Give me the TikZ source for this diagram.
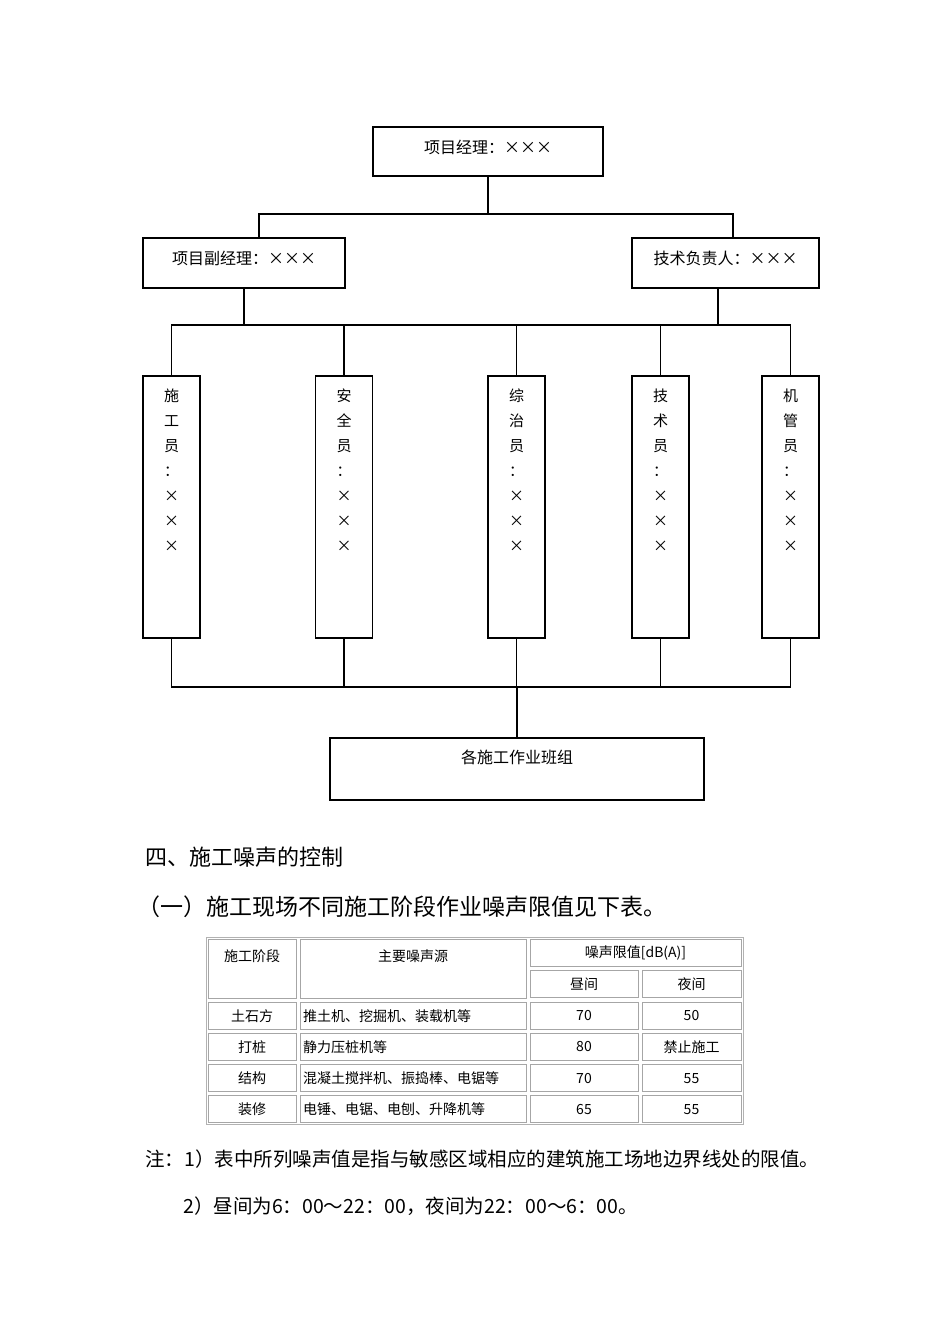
\documentclass[tikz,border=0pt]{standalone}
\usepackage{fontspec}
\setmainfont{Noto Sans CJK SC}
\usetikzlibrary{calc}
\newcommand{\xx}{\makebox[1em]{×}}
\newcommand{\vstack}[1]{\parbox[c][262pt][t]{20pt}{\centering\vspace*{13pt}#1}}

\begin{document}
\begin{tikzpicture}[
  x=1pt,y=-1pt,
  box/.style={draw,line width=1.3pt,inner sep=0pt,font=\fontsize{16}{18}\selectfont,text height=13pt},
  post/.style={draw,line width=1.3pt,inner sep=0pt,minimum width=57pt,font=\fontsize{15}{25}\selectfont},
  link/.style={line width=1.3pt},
  cell/.style={draw=gray!70,line width=1pt,inner sep=0pt,minimum height=27pt,font=\fontsize{14}{16}\selectfont},
  para/.style={anchor=west,inner sep=0pt}
]
\useasboundingbox (0,0) rectangle (950,1344);

% organisation chart
\node[box,minimum width=230pt,minimum height=49pt,text depth=10pt] (pm) at (488,151.5) {项目经理：\xx\xx\xx};
\node[box,minimum width=202pt,minimum height=50pt,text depth=11pt] (dpm) at (244,263) {项目副经理：\xx\xx\xx};
\node[box,minimum width=187pt,minimum height=50pt,text depth=11pt] (tech) at (725.5,263) {技术负责人：\xx\xx\xx};
\foreach \x/\a/\b/\c [count=\i] in {171.5/施/工/员, 344/安/全/员, 516.5/综/治/员, 660.5/技/术/员, 790.5/机/管/员}
  \node[post] (wk\i) at (\x,507) {\vstack{\a\\\b\\\c\\：\\×\\×\\×}};
\node[box,minimum width=374pt,minimum height=62pt,text depth=25pt] (crew) at (517,769) {各施工作业班组};

\coordinate (busTop) at (0,214);
\coordinate (busMid) at (0,325);
\coordinate (busLow) at (0,687);
\draw[link] (pm.south) -- (pm.south |- busTop);
\draw[link] ([xshift=15pt]dpm.north) -- ([xshift=15pt]dpm.north |- busTop) -- ([xshift=7.5pt]tech.north |- busTop) -- ([xshift=7.5pt]tech.north);
\draw[link] (dpm.south) -- (dpm.south |- busMid);
\draw[link] ([xshift=-7.5pt]tech.south) -- ([xshift=-7.5pt]tech.south |- busMid);
\draw[link] (wk1.north) -- (wk1.north |- busMid) -- (wk5.north |- busMid) -- (wk5.north);
\foreach \i in {2,3,4}
  \draw[link] (wk\i.north) -- (wk\i.north |- busMid);
\draw[link] (wk1.south) -- (wk1.south |- busLow) -- (wk5.south |- busLow) -- (wk5.south);
\foreach \i in {2,3,4}
  \draw[link] (wk\i.south) -- (wk\i.south |- busLow);
\draw[link] (crew.north) -- (crew.north |- busLow);

% text
\node[para,font=\fontsize{22}{26}\selectfont] (sec) at (145,857) {四、施工噪声的控制};
\node[para,font=\fontsize{23}{27}\selectfont] (sub) at (137,907) {（一）施工现场不同施工阶段作业噪声限值见下表。};

% noise table
\draw[gray!60,line width=1pt] (206,937) rectangle (743,1124);
\node[cell,minimum width=88pt,minimum height=59pt,text height=11.5pt,text depth=26.5pt] (hstage) at (252,968.5) {施工阶段};
\node[cell,minimum width=226pt,minimum height=59pt,text height=11.5pt,text depth=26.5pt] (hsrc) at (413,968.5) {主要噪声源};
\node[cell,minimum width=211pt] (hlim) at (635.5,952.5) {噪声限值[dB(A)]};
\node[cell,minimum width=108pt] (hday) at (584,984) {昼间};
\node[cell,minimum width=99pt] (hnight) at (691.5,984) {夜间};
\foreach \stage/\src/\day/\night [count=\r] in {土石方/推土机、挖掘机、装载机等/70/50, 打桩/静力压桩机等/80/禁止施工, 结构/混凝土搅拌机、振捣棒、电锯等/70/55, 装修/电锤、电锯、电刨、升降机等/65/55} {
  \node[cell,minimum width=88pt] (stage\r) at (252,{984.4+31.25*\r}) {\stage};
  \node[cell,text width=220pt,inner xsep=3pt,align=left] (src\r) at (413,{984.4+31.25*\r}) {\src};
  \node[cell,minimum width=108pt] (day\r) at (584,{984.4+31.25*\r}) {\day};
  \node[cell,minimum width=99pt] (night\r) at (691.5,{984.4+31.25*\r}) {\night};
}

\node[para,font=\fontsize{19.5}{22}\selectfont] (note1) at (145,1159) {注：1）表中所列噪声值是指与敏感区域相应的建筑施工场地边界线处的限值。};
\node[para,font=\fontsize{19.5}{22}\selectfont] (note2) at (183,1206) {2）昼间为6：00～22：00，夜间为22：00～6：00。};
\end{tikzpicture}
\end{document}
